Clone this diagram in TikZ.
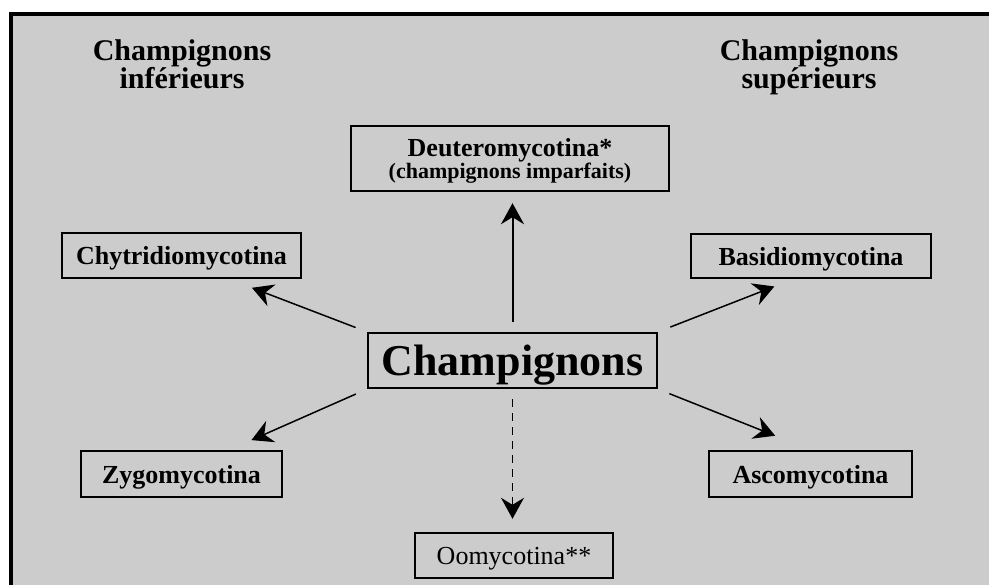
\documentclass[tikz,border=0pt]{standalone}
\usepackage{fontspec}
\setmainfont{Liberation Serif}
\usetikzlibrary{arrows.meta,calc}
\definecolor{bggray}{RGB}{204,204,204}
\begin{document}
\begin{tikzpicture}[x=1pt,y=-1pt,
  box/.style={draw=black, line width=2.4pt, inner sep=0pt, align=center, text depth=0pt, font=\bfseries\fontsize{26}{28}\selectfont},
  arr/.style={line width=1.5pt, -{Stealth[length=21pt,width=23pt,inset=7pt]}},
  head/.style={align=center, inner sep=0pt, font=\bfseries\fontsize{30}{26}\selectfont}]
\useasboundingbox (0,0) rectangle (989,585);
\fill[white] (0,0) rectangle (989,585);
\fill[bggray] (11,14) rectangle (989,585);
\draw[line width=4pt] (11,585) -- (11,14) -- (989,14);
\node[head, anchor=north] (hinf) at (182,39) {Champignons\\inférieurs};
\node[head, anchor=north] (hsup) at (809,39) {Champignons\\supérieurs};
\node[box, minimum width=318pt, minimum height=65pt] (deut) at (510,158.5) {Deuteromycotina*\\[-6pt]{\fontsize{22}{22}\selectfont (champignons imparfaits)}};
\node[box, minimum width=239pt, minimum height=45pt] (chyt) at (181.5,255.5) {Chytridiomycotina};
\node[box, minimum width=240pt, minimum height=44pt] (basi) at (811,256) {Basidiomycotina};
\node[box, minimum width=289pt, minimum height=55pt, font=\bfseries\fontsize{44}{46}\selectfont] (champ) at (512.5,360.5) {Champignons};
\node[box, minimum width=201pt, minimum height=46pt] (zygo) at (181.5,474) {Zygomycotina};
\node[box, minimum width=203pt, minimum height=46pt] (asco) at (810.5,474) {Ascomycotina};
\node[box, minimum width=198pt, minimum height=45pt, font=\fontsize{26}{28}\selectfont] (oomy) at (514,555.5) {Oomycotina**};
\draw[arr, shorten <=12pt, shorten >=24pt] (champ.north west) -- ($(chyt.south)+(48,0)$);
\draw[arr, shorten <=13pt, shorten >=20pt] (champ.north east) -- ($(basi.south)+(-18,0)$);
\draw[arr, shorten <=12pt, shorten >=24pt] (champ.south west) -- ($(zygo.north)+(48,0)$);
\draw[arr, shorten <=12pt, shorten >=38pt] (champ.south east) -- (asco.north);
\draw[arr, line width=2pt, shorten <=10pt, shorten >=11pt] (champ.north) -- (champ.north |- deut.south);
\draw[arr, dash pattern=on 8pt off 6pt, shorten <=10pt, shorten >=13pt] (champ.south) -- (champ.south |- oomy.north);
\end{tikzpicture}
\end{document}
